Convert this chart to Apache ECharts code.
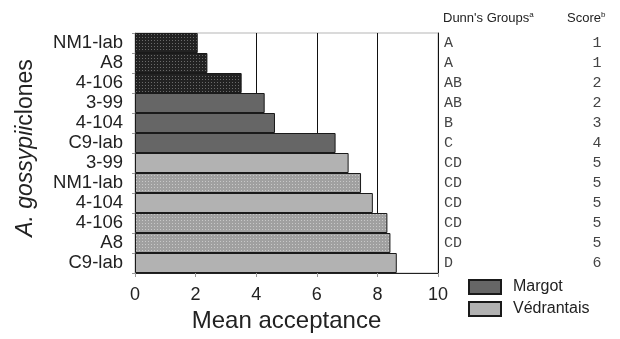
<!DOCTYPE html>
<html>
<head>
<meta charset="utf-8">
<script src="https://cdn.jsdelivr.net/npm/echarts@6/dist/echarts.min.js"></script>
<style>
  html, body { margin: 0; padding: 0; background: #fff; }
  #chart { width: 620px; height: 339px; }
</style>
</head>
<body>
<div id="chart"></div>
<script>
// data, rows listed top to bottom
const clones = ['NM1-lab', 'A8', '4-106', '3-99', '4-104', 'C9-lab', '3-99', 'NM1-lab', '4-104', '4-106', 'A8', 'C9-lab']
const cultivar = ['Margot', 'Margot', 'Margot', 'Margot', 'Margot', 'Margot',
  'Védrantais', 'Védrantais', 'Védrantais', 'Védrantais', 'Védrantais', 'Védrantais']
const meanAcceptance = [2.07, 2.39, 3.52, 4.28, 4.62, 6.62, 7.05, 7.46, 7.85, 8.33, 8.43, 8.64]
const dunnGroups = ['A', 'A', 'AB', 'AB', 'B', 'C', 'CD', 'CD', 'CD', 'CD', 'CD', 'D']
const scores = ['1', '1', '2', '2', '3', '4', '5', '5', '5', '5', '5', '6']
const cultivars = ['Margot', 'Védrantais']

const sans = '"Liberation Sans", Arial, Helvetica, sans-serif'
const narrow = '"Liberation Sans Narrow", "Arial Narrow", ' + sans
const mono = '"Liberation Mono", "Courier New", monospace'

// stippled fill (rows drawn with a dotted screen in the original)
const stippledRows = [0, 1, 2, 7, 9, 10]
function makePattern(base, dot) {
  const c = document.createElement('canvas')
  c.width = 3
  c.height = 3
  const ctx = c.getContext('2d')
  ctx.fillStyle = base
  ctx.fillRect(0, 0, 3, 3)
  ctx.fillStyle = dot
  ctx.fillRect(1, 1, 1, 1)
  return { image: c, repeat: 'repeat' }
}
const fills = {
  Margot: { plain: '#666666', dotted: makePattern('#222222', '#6a6a6a') },
  'Védrantais': { plain: '#b2b2b2', dotted: makePattern('#a0a0a0', '#c8c8c8') }
}

const series = cultivars.map(name => ({
  name,
  type: 'bar',
  barCategoryGap: 0,
  barGap: '-100%',
  itemStyle: { color: fills[name].plain, borderColor: '#1a1a1a', borderWidth: 1 },
  data: meanAcceptance.map((v, i) => {
    if (cultivar[i] !== name) return '-'
    const dotted = stippledRows.indexOf(i) >= 0
    return dotted ? { value: v, itemStyle: { color: fills[name].dotted } } : v
  })
}))

const colLabel = { interval: 0, fontFamily: mono, fontSize: 15, color: '#444', padding: [0, 0, 10, 0] }

const chart = echarts.init(document.getElementById('chart'))
chart.setOption({
  animation: false,
  textStyle: { fontFamily: sans },
  grid: {
    left: 135, right: 182, top: 33, bottom: 66,
    show: true, borderColor: '#b5b5b5', borderWidth: 1
  },
  legend: {
    orient: 'vertical',
    left: 468,
    top: 279,
    padding: 0,
    itemWidth: 32,
    itemHeight: 14,
    itemGap: 6,
    icon: 'rect',
    selectedMode: false,
    textStyle: { fontFamily: sans, fontSize: 16, color: '#222', padding: [0, 0, 0, 7] },
    data: cultivars
  },
  xAxis: {
    type: 'value',
    min: 0,
    max: 10,
    interval: 2,
    name: 'Mean acceptance',
    nameLocation: 'middle',
    nameGap: 33,
    nameTextStyle: { fontSize: 24, color: '#222', fontFamily: sans },
    axisLine: { show: true, lineStyle: { color: '#222', width: 1 } },
    axisTick: { show: true, length: 4, lineStyle: { color: '#999' } },
    axisLabel: { fontSize: 18, color: '#222', margin: 13 },
    splitLine: { show: true, lineStyle: { color: '#111', width: 1 } }
  },
  yAxis: [
    {
      type: 'category',
      inverse: true,
      data: clones,
      axisLine: { show: true, lineStyle: { color: '#999' } },
      axisTick: { show: true, length: 3, lineStyle: { color: '#999' } },
      axisLabel: { interval: 0, fontSize: 18.5, color: '#222', margin: 12, padding: [0, 0, 5, 0] }
    },
    {
      type: 'category',
      inverse: true,
      position: 'right',
      data: dunnGroups,
      axisLine: { show: true, lineStyle: { color: '#111' } },
      axisTick: { show: false },
      axisLabel: Object.assign({ margin: 6 }, colLabel)
    },
    {
      type: 'category',
      inverse: true,
      position: 'right',
      data: scores,
      axisLine: { show: false },
      axisTick: { show: false },
      axisLabel: Object.assign({ margin: 159, align: 'center' }, colLabel)
    }
  ],
  graphic: [
    {
      type: 'text',
      x: 26,
      y: 148,
      rotation: Math.PI / 2,
      style: {
        text: '{i|A. gossypii}{r|clones}',
        align: 'center',
        verticalAlign: 'middle',
        rich: {
          i: { fontFamily: sans, fontSize: 23, fontStyle: 'italic', fill: '#222' },
          r: { fontFamily: sans, fontSize: 23, fill: '#222' }
        }
      }
    },
    {
      type: 'text',
      x: 443,
      y: 18,
      style: {
        text: "{t|Dunn's Groups}{s|a}",
        verticalAlign: 'middle',
        rich: {
          t: { fontFamily: narrow, fontSize: 13, fill: '#222', lineHeight: 14 },
          s: { fontFamily: sans, fontSize: 8, fill: '#222', verticalAlign: 'top' }
        }
      }
    },
    {
      type: 'text',
      x: 567,
      y: 18,
      style: {
        text: '{t|Score}{s|b}',
        verticalAlign: 'middle',
        rich: {
          t: { fontFamily: narrow, fontSize: 13, fill: '#222', lineHeight: 14 },
          s: { fontFamily: sans, fontSize: 8, fill: '#222', verticalAlign: 'top' }
        }
      }
    }
  ],
  series
})
</script>
</body>
</html>
